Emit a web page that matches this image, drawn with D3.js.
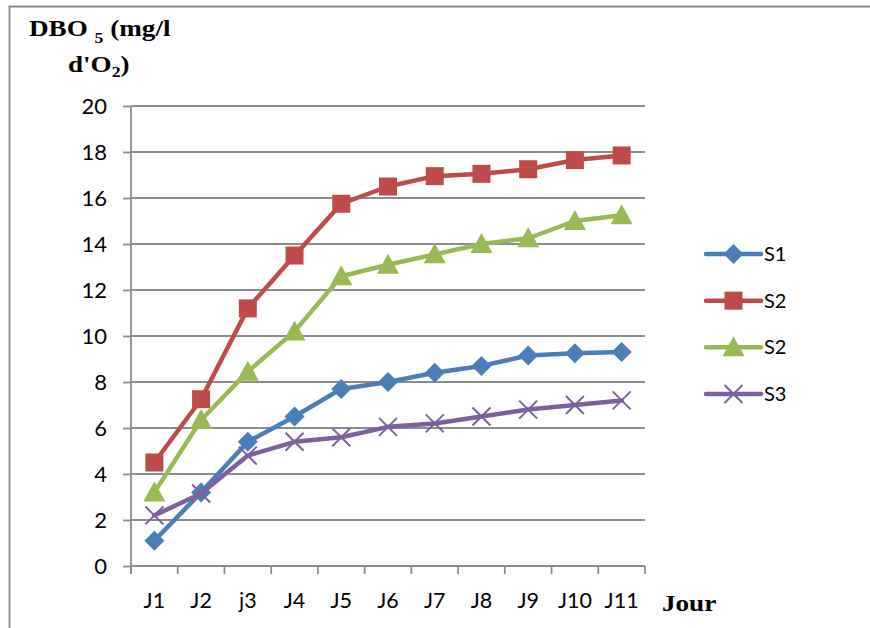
<!DOCTYPE html>
<html>
<head>
<meta charset="utf-8">
<script src="https://cdn.jsdelivr.net/npm/d3@7"></script>
<style>
  html, body { margin: 0; padding: 0; background: #fff; }
  svg { display: block; }
</style>
</head>
<body>
<svg id="chart" width="870" height="628"></svg>
<script>
// Days of measurement
const days = ["J1", "J2", "j3", "J4", "J5", "J6", "J7", "J8", "J9", "J10", "J11"];

// DBO5 per sample (mg/l d'O2)
const s1 = [1.1, 3.2, 5.4, 6.5, 7.7, 8.0, 8.4, 8.7, 9.15, 9.25, 9.3];
const s2a = [4.5, 7.25, 11.2, 13.5, 15.75, 16.5, 16.95, 17.05, 17.25, 17.65, 17.85];
const s2b = [3.2, 6.35, 8.45, 10.2, 12.6, 13.1, 13.55, 14.0, 14.25, 15.0, 15.25];
const s3 = [2.2, 3.15, 4.8, 5.4, 5.6, 6.05, 6.2, 6.5, 6.8, 7.0, 7.2];

const yTicks = [0, 2, 4, 6, 8, 10, 12, 14, 16, 18, 20];

const series = [
  { name: "S1", values: s1, color: "#4A7EBB", marker: "diamond" },
  { name: "S2", values: s2a, color: "#BE4B48", marker: "square" },
  { name: "S2", values: s2b, color: "#98B954", marker: "triangle" },
  { name: "S3", values: s3, color: "#7D60A0", marker: "cross" }
];

const svg = d3.select("#chart");
const plot = { left: 131, right: 645, top: 106, bottom: 566 };

// Outer frame (open on the right and bottom edges)
svg.append("path")
  .attr("d", "M9.5,640 L9.5,6.5 L880,6.5")
  .attr("fill", "none")
  .attr("stroke", "#8a8a8a")
  .attr("stroke-width", 1.8);

const xBand = d3.scaleBand().domain(days).range([plot.left, plot.right]).padding(0);
const x = d => xBand(d) + xBand.bandwidth() / 2;
const y = d3.scaleLinear().domain([0, 20]).range([plot.bottom, plot.top]);

const gridColor = "#8c8c8c";
const axisFont = "Lato, 'Liberation Sans', sans-serif";
const serifFont = "'Liberation Serif', 'Times New Roman', serif";

// Horizontal gridlines with outward ticks
const yAxis = d3.axisLeft(y).tickValues(yTicks).tickSize(8).tickPadding(16).tickFormat(d3.format("d"));
const gy = svg.append("g").attr("transform", `translate(${plot.left},0)`).call(yAxis);
gy.select(".domain").remove();
gy.selectAll(".tick line").attr("stroke", gridColor).attr("stroke-width", 1.8);
gy.selectAll(".tick text")
  .attr("fill", "#000")
  .style("font-family", axisFont)
  .style("font-size", "22px");

svg.append("g")
  .selectAll("line")
  .data(yTicks)
  .join("line")
  .attr("x1", plot.left)
  .attr("x2", plot.right)
  .attr("y1", d => y(d))
  .attr("y2", d => y(d))
  .attr("stroke", gridColor)
  .attr("stroke-width", 1.8);

// Vertical axis line
svg.append("line")
  .attr("x1", plot.left).attr("x2", plot.left)
  .attr("y1", plot.top).attr("y2", plot.bottom + 8)
  .attr("stroke", gridColor).attr("stroke-width", 1.8);

// Category ticks sit on band edges
const edges = days.map(d => xBand(d)).concat([plot.right]);
svg.append("g")
  .selectAll("line")
  .data(edges)
  .join("line")
  .attr("x1", d => d).attr("x2", d => d)
  .attr("y1", plot.bottom).attr("y2", plot.bottom + 8)
  .attr("stroke", gridColor).attr("stroke-width", 1.8);

svg.append("g")
  .selectAll("text")
  .data(days)
  .join("text")
  .attr("x", d => x(d))
  .attr("y", 608)
  .attr("text-anchor", "middle")
  .style("font-family", axisFont)
  .style("font-size", "21.5px")
  .attr("fill", "#000")
  .text(d => d);

// Axis titles (bold serif, slightly widened)
const widen = 1.18;
function serifText(px, py) {
  return svg.append("text")
    .attr("transform", `translate(${px},${py}) scale(${widen},1)`)
    .style("font-family", serifFont)
    .style("font-weight", "bold")
    .style("font-size", "23px")
    .attr("fill", "#000");
}

const title = serifText(29, 36);
title.append("tspan").text("DBO ");
title.append("tspan").attr("dy", 7).style("font-size", "15px").text("5");
title.append("tspan").attr("dy", -7).text(" (mg/l");

const title2 = serifText(68, 72);
title2.append("tspan").text("d'O");
title2.append("tspan").attr("dy", 5).style("font-size", "15px").text("2");
title2.append("tspan").attr("dy", -5).text(")");

serifText(662, 611).text("Jour");

// Marker drawing
function drawMarker(g, type, color, cx, cy) {
  if (type === "diamond") {
    g.append("path")
      .attr("d", `M${cx},${cy - 10} L${cx + 10},${cy} L${cx},${cy + 10} L${cx - 10},${cy} Z`)
      .attr("fill", color);
  } else if (type === "square") {
    g.append("rect")
      .attr("x", cx - 9).attr("y", cy - 9)
      .attr("width", 18).attr("height", 18)
      .attr("fill", color);
  } else if (type === "triangle") {
    g.append("path")
      .attr("d", `M${cx},${cy - 11} L${cx + 11},${cy + 9} L${cx - 11},${cy + 9} Z`)
      .attr("fill", color);
  } else if (type === "cross") {
    g.append("path")
      .attr("d", `M${cx - 9},${cy - 9} L${cx + 9},${cy + 9} M${cx - 9},${cy + 9} L${cx + 9},${cy - 9}`)
      .attr("stroke", color)
      .attr("stroke-width", 2)
      .attr("fill", "none");
  }
}

const line = d3.line().x((d, i) => x(days[i])).y(d => y(d));

series.forEach(s => {
  const g = svg.append("g");
  g.append("path")
    .datum(s.values)
    .attr("d", line)
    .attr("fill", "none")
    .attr("stroke", s.color)
    .attr("stroke-width", 4.5)
    .attr("stroke-linejoin", "round")
    .attr("stroke-linecap", "round");
  s.values.forEach((v, i) => drawMarker(g, s.marker, s.color, x(days[i]), y(v)));
});

// Legend
const legendY = d3.scalePoint().domain(d3.range(series.length)).range([254, 394]);
series.forEach((s, i) => {
  const g = svg.append("g");
  const ly = legendY(i);
  g.append("line")
    .attr("x1", 706).attr("x2", 761)
    .attr("y1", ly).attr("y2", ly)
    .attr("stroke", s.color)
    .attr("stroke-width", 4.5)
    .attr("stroke-linecap", "round");
  drawMarker(g, s.marker, s.color, 733.5, ly);
  g.append("text")
    .attr("x", 764).attr("y", ly + 7)
    .style("font-family", axisFont)
    .style("font-size", "20px")
    .attr("fill", "#000")
    .text(s.name);
});
</script>
</body>
</html>
